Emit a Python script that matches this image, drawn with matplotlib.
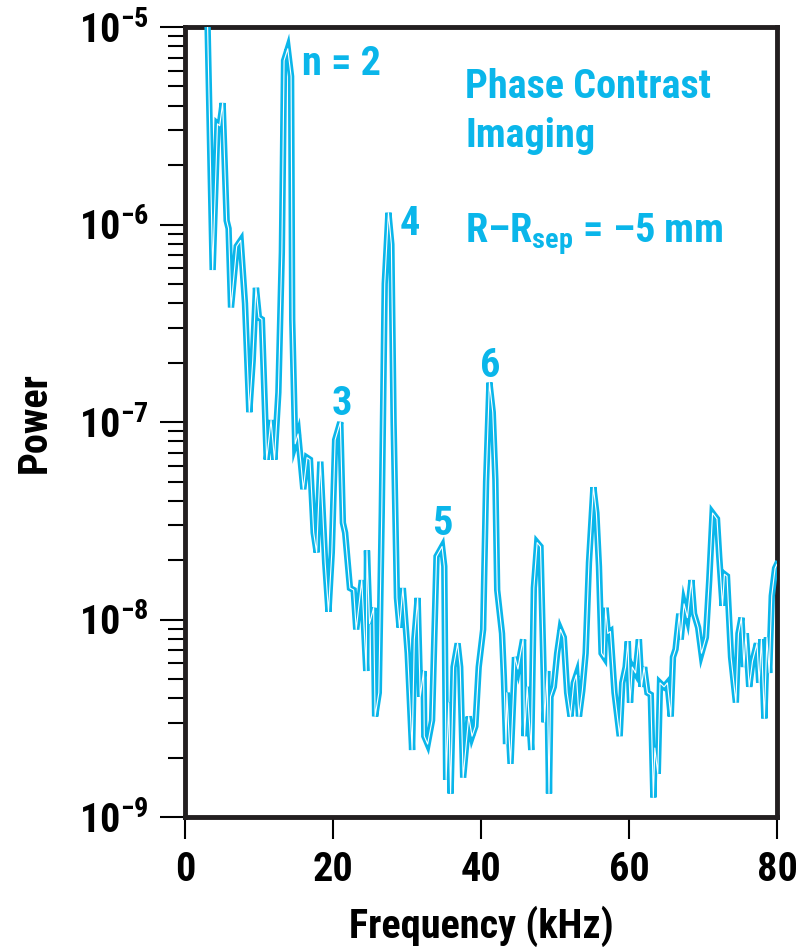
import matplotlib
matplotlib.use('Agg')
import matplotlib.pyplot as plt
from matplotlib import font_manager
import numpy as np

# PCI power spectrum, R - Rsep = -5 mm
freq = [2.9, 3.75, 4.4, 4.7, 5.1, 5.64, 5.9, 6.23, 7.0, 7.54, 8.12, 8.7, 9.16, 9.6, 10.0,
        10.4, 11.05, 11.64, 12.1, 12.63, 13.1, 13.4, 13.9, 14.35, 14.5, 14.9, 15.3, 16.0,
        16.5, 16.9, 17.4, 17.8, 18.3, 18.95, 19.4, 19.85, 20.3, 21.0, 21.35, 21.65, 22.3,
        22.8, 23.15, 23.9, 24.5, 24.6, 24.95, 25.5, 25.7, 26.2, 26.6, 27.0, 27.5, 27.9,
        28.2, 28.65, 29.0, 29.45, 30.1, 30.7, 31.0, 31.45, 31.8, 32.25, 32.35, 32.8, 33.4,
        34.0, 34.75, 35.05, 35.3, 35.65, 35.9, 36.3, 36.85, 37.2, 37.6, 38.35, 38.8, 39.25,
        39.7, 40.3, 40.7, 41.15, 41.6, 41.95, 42.2, 42.85, 43.1, 43.4, 43.5, 44.0, 44.6,
        45.0, 45.35, 45.7, 45.9, 46.25, 46.8, 47.15, 47.6, 48.05, 48.5, 48.6, 48.95, 49.2,
        49.4, 49.85, 50.3, 50.75, 51.2, 51.65, 52.1, 52.55, 52.9, 53.25, 53.7, 54.15, 54.6,
        55.2, 55.6, 55.95, 56.3, 56.65, 56.85, 57.15, 57.5, 58.05, 58.75, 59.1, 59.55,
        59.85, 60.15, 60.45, 60.9, 61.35, 61.7, 62.05, 62.5, 62.95, 63.3, 63.5, 63.9, 64.2,
        64.75, 65.2, 65.65, 65.95, 66.3, 66.8, 67.0, 67.45, 67.9, 68.45, 68.8, 69.35, 69.8,
        70.4, 70.85, 71.3, 71.9, 72.2, 72.65, 72.9, 73.25, 73.8, 74.45, 74.8, 75.2, 75.55,
        75.8, 76.25, 76.7, 77.3, 77.6, 77.9, 78.3, 78.65, 78.95, 79.3, 79.75, 80.0]

log_power = [-4.7, -6.23, -5.49, -5.50, -5.385, -5.98, -6.02, -6.42, -6.11, -6.08, -6.40,
             -6.95, -6.69, -6.32, -6.47, -6.48, -7.19, -6.99, -7.19, -6.85, -6.14, -5.17,
             -5.11, -5.25, -6.48, -7.11, -7.06, -7.34, -7.18, -7.19, -7.56, -7.66, -7.20,
             -7.71, -7.96, -7.66, -7.09, -7.00, -7.51, -7.56, -7.84, -7.85, -8.05, -7.80,
             -8.26, -7.65, -8.02, -7.94, -8.49, -8.37, -7.46, -6.30, -5.94, -6.10, -7.00,
             -7.89, -8.04, -7.84, -8.17, -8.66, -8.10, -7.89, -8.39, -8.26, -8.59, -8.63,
             -8.51, -7.68, -7.63, -7.73, -8.81, -8.42, -8.88, -8.24, -8.12, -8.24, -8.80,
             -8.49, -8.59, -8.54, -8.24, -8.05, -7.30, -6.80, -6.95, -7.29, -7.85, -8.07,
             -8.29, -8.63, -8.37, -8.73, -8.19, -8.25, -8.17, -8.10, -8.59, -8.34, -8.66,
             -7.84, -7.61, -7.63, -8.31, -8.52, -8.26, -8.88, -8.39, -8.34, -8.17, -8.05,
             -8.09, -8.37, -8.49, -8.32, -8.28, -8.49, -8.36, -8.17, -7.71, -7.33, -7.46,
             -7.73, -8.17, -8.19, -7.94, -8.07, -8.06, -8.37, -8.59, -8.32, -8.24, -8.11,
             -8.42, -8.24, -8.27, -8.10, -8.34, -8.24, -8.37, -8.38, -8.90, -8.65, -8.78,
             -8.32, -8.34, -8.32, -8.49, -8.19, -8.15, -7.97, -8.10, -7.92, -7.99, -7.80,
             -7.97, -8.04, -8.17, -8.09, -7.80, -7.46, -7.49, -7.68, -7.93, -7.77, -7.78,
             -8.19, -8.42, -8.07, -7.99, -8.24, -8.07, -8.34, -8.21, -8.12, -8.32, -8.10,
             -8.50, -8.09, -8.27, -7.88, -7.74, -7.72]

# mode labels: text, x (kHz), baseline log10(power)
mode_labels = ['n = 2', '3', '4', '5', '6']
mode_x = [15.8, 21.2, 30.45, 34.75, 41.3]
mode_y = [-5.243, -6.965, -6.053, -7.572, -6.772]
mode_ha = ['left', 'center', 'center', 'center', 'center']

ytick_vals = [1e-9, 1e-8, 1e-7, 1e-6, 1e-5]
ytick_text = [r'$10^{-9}$', r'$10^{-8}$', r'$10^{-7}$', r'$10^{-6}$', r'$10^{-5}$']
xtick_vals = [0, 20, 40, 60, 80]

cyan = '#0AB6EA'

# pick a narrow bold sans if one is installed
entries = font_manager.fontManager.ttflist
names = {f.name for f in entries}
narrow = None
for cand in ['Liberation Sans Narrow', 'DejaVu Sans Condensed', 'Roboto Condensed',
             'Open Sans Condensed', 'Noto Sans Condensed']:
    if cand in names:
        narrow = cand
        break
stretch = 'normal'
if narrow is None:
    if any(f.name == 'DejaVu Sans' and str(f.stretch) == 'condensed' for f in entries):
        narrow, stretch = 'DejaVu Sans', 'condensed'
    else:
        narrow = 'Liberation Sans'

plt.rcParams['font.family'] = [narrow, 'DejaVu Sans']
plt.rcParams['font.weight'] = 'bold'
plt.rcParams['font.stretch'] = stretch
plt.rcParams['axes.labelweight'] = 'bold'
plt.rcParams['mathtext.fontset'] = 'custom'
mfont = narrow + ':bold' + (':condensed' if stretch == 'condensed' else '')
for key in ['mathtext.rm', 'mathtext.it', 'mathtext.bf', 'mathtext.sf']:
    plt.rcParams[key] = mfont

fs = 29 if narrow != 'Liberation Sans' else 26

power = 10 ** np.array(log_power)

fig = plt.figure(figsize=(8.11, 9.48), dpi=100)
ax = fig.add_axes([0.228, 0.138, 0.730, 0.8335])

ax.plot(freq, power, color=cyan, lw=4.6, solid_joinstyle='miter', zorder=3)
ax.plot(freq, power, color='white', lw=0.8, zorder=4)

ax.set_yscale('log')
ax.set_xlim(0, 80)
ax.set_ylim(1e-9, 1e-5)

ax.set_yticks(ytick_vals)
ax.set_yticklabels(ytick_text)
ax.set_xticks(xtick_vals)
ax.set_xticklabels([str(v) for v in xtick_vals])
ax.yaxis.set_minor_locator(matplotlib.ticker.LogLocator(base=10, subs=np.arange(2, 10)))
ax.yaxis.set_minor_formatter(matplotlib.ticker.NullFormatter())
ax.tick_params(axis='y', which='major', length=18, width=1.5, pad=8, labelsize=fs)
ax.tick_params(axis='y', which='minor', length=12, width=1.5)
ax.tick_params(axis='x', which='major', length=16, width=1.5, pad=8, labelsize=fs)
ax.tick_params(axis='x', which='minor', length=0)

for s in ax.spines.values():
    s.set_linewidth(3.5)
    s.set_color('#231f20')

ax.set_xlabel('Frequency (kHz)', fontsize=fs)
ax.set_ylabel('Power', fontsize=fs)
ax.xaxis.set_label_coords(0.5, -0.112)
ax.yaxis.set_label_coords(-0.222, 0.5)

for t, x, y, ha in zip(mode_labels, mode_x, mode_y, mode_ha):
    ax.text(x, 10 ** y, t, color=cyan, fontsize=fs, ha=ha, va='baseline')

ax.text(37.9, 10 ** -5.36, 'Phase Contrast', color=cyan, fontsize=fs, va='baseline')
ax.text(37.9, 10 ** -5.608, 'Imaging', color=cyan, fontsize=fs, va='baseline')
ax.text(37.9, 10 ** -6.089, r'R–R$_{\mathrm{sep}}$ = –5 mm', color=cyan, fontsize=fs, va='baseline')

fig.savefig('out.png', dpi=100)
